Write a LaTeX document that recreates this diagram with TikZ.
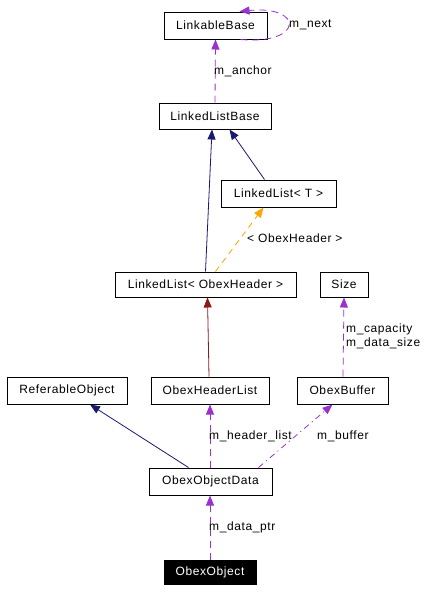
\documentclass[tikz,border=0pt]{standalone}
\usepackage{fontspec}
\setmainfont{Liberation Sans}[LetterSpace=5]
\usetikzlibrary{arrows.meta}
\definecolor{navyc}{RGB}{25,25,112}
\definecolor{purplec}{RGB}{153,50,204}
\definecolor{orangec}{RGB}{255,165,0}
\definecolor{redc}{RGB}{139,26,26}
\tikzset{
  box/.style={draw=black, line width=1pt, rectangle, inner sep=0pt, font=\fontsize{12}{14}\selectfont},
  lbl/.style={anchor=west, inner sep=0pt, font=\fontsize{12}{14}\selectfont, align=left},
  tip/.style={-{Triangle[length=10pt,width=8pt]}},
  inh/.style={tip, navyc, line width=0.8pt},
  use/.style={tip, purplec, line width=0.8pt, dash pattern=on 7pt off 5pt},
  usedot/.style={tip, purplec, line width=0.8pt, dash pattern=on 6pt off 4pt on 1pt off 4pt},
  tmpl/.style={tip, orangec, line width=0.8pt, dash pattern=on 6pt off 5pt},
  priv/.style={tip, redc, line width=0.8pt}
}
\begin{document}
\begin{tikzpicture}[x=1pt,y=-1pt]
\useasboundingbox[fill=white] (0,0) rectangle (428,592);
\node[box, minimum width=103pt, minimum height=27pt] (lb) at (215.5,25.5) {LinkableBase};
\node[box, minimum width=112pt, minimum height=26pt] (llb) at (215,116) {LinkedListBase};
\node[box, minimum width=115pt, minimum height=27pt] (lt) at (278.5,193.5) {LinkedList< T >};
\node[box, minimum width=181pt, minimum height=25pt] (lloh) at (205.5,284.5) {LinkedList< ObexHeader >};
\node[box, minimum width=48pt, minimum height=25pt] (size) at (344,284.5) {Size};
\node[box, minimum width=120pt, minimum height=27pt] (ro) at (67,390.5) {ReferableObject};
\node[box, minimum width=118pt, minimum height=27pt] (ohl) at (210,390.5) {ObexHeaderList};
\node[box, minimum width=91pt, minimum height=27pt] (ob) at (342.5,390.5) {ObexBuffer};
\node[box, minimum width=123pt, minimum height=27pt] (ood) at (210.5,481.5) {ObexObjectData};
\node[box, fill=black, text=white, minimum width=92pt, minimum height=24pt] (oo) at (210,572) {ObexObject};

% self loop
\draw[use] ([xshift=25pt]lb.south) .. controls (304,45) and (304,5) .. ([xshift=24pt]lb.north);
\node[lbl] (lnext) at (289,25) {m\_next};

\draw[use] (llb.north) -- (lb.south);
\node[lbl] (lanchor) at (214,71) {m\_anchor};

\draw[inh] ([xshift=44pt]lt.north west) -- ([xshift=-42pt]llb.south east);
\draw[inh] (lloh.north) -- ([xshift=-3pt]llb.south);
\draw[tmpl] ([xshift=10pt]lloh.north) -- ([xshift=-15pt]lt.south);
\node[lbl] (loh) at (247,238) {< ObexHeader >};

\draw[priv] ([xshift=-1pt]ohl.north) -- ([xshift=2pt]lloh.south);

\draw[use] ([xshift=0.5pt]ob.north) -- (size.south);
\node[lbl] (lcap) at (346,336.5) {m\_capacity\\m\_data\_size};

\draw[inh] ([xshift=-22pt]ood.north) -- ([xshift=23pt]ro.south);
\draw[use] ([xshift=-0.5pt]ood.north) -- (ohl.south);
\node[lbl] (lhl) at (209,436) {m\_header\_list};
\draw[usedot] ([xshift=48pt]ood.north) -- ([xshift=-10pt]ob.south);
\node[lbl] (lbuf) at (317,436) {m\_buffer};

\draw[use] (oo.north) -- ([xshift=-0.5pt]ood.south);
\node[lbl] (ldp) at (209,527) {m\_data\_ptr};
\end{tikzpicture}
\end{document}
